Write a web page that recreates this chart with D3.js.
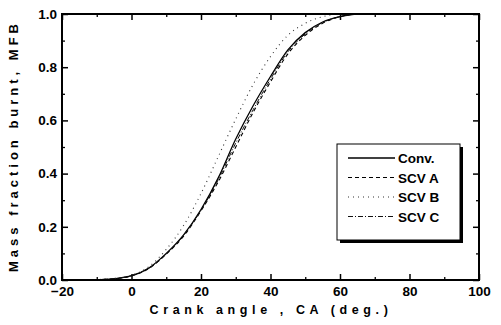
<!DOCTYPE html>
<html>
<head>
<meta charset="utf-8">
<script src="https://cdn.jsdelivr.net/npm/d3@7"></script>
<style>
  body { margin: 0; background: #fff; }
  svg text { font-family: "Liberation Sans", Arial, sans-serif; font-weight: bold; fill: #000; }
</style>
</head>
<body>
<div id="chart"></div>
<script>
// crank angle samples (deg.)
const crankAngle = [-12, -8, -4, 0, 5, 10, 15, 20, 25, 30, 35, 40, 45, 50, 55, 60, 65, 70];
const seriesNames = ["Conv.", "SCV A", "SCV B", "SCV C"];
const conv = [0, 0.002, 0.006, 0.016, 0.045, 0.10, 0.17, 0.265, 0.385, 0.53, 0.655, 0.765, 0.865, 0.93, 0.97, 0.99, 1.0, 1.0];
const scvA = [0, 0.002, 0.006, 0.015, 0.043, 0.097, 0.165, 0.26, 0.37, 0.50, 0.63, 0.745, 0.85, 0.92, 0.965, 0.99, 1.0, 1.0];
const scvB = [0, 0.003, 0.008, 0.018, 0.05, 0.115, 0.205, 0.325, 0.465, 0.605, 0.735, 0.84, 0.92, 0.965, 0.99, 1.0, 1.0, 1.0];
const scvC = [0, 0.002, 0.006, 0.016, 0.044, 0.098, 0.168, 0.262, 0.378, 0.515, 0.64, 0.755, 0.858, 0.925, 0.968, 0.99, 1.0, 1.0];
const xTicks = [-20, 0, 20, 40, 60, 80, 100];
const yTicks = [0.0, 0.2, 0.4, 0.6, 0.8, 1.0];

const width = 501, height = 325;
const margin = { top: 14, right: 22, bottom: 45, left: 62 };
const w = width - margin.left - margin.right;
const h = height - margin.top - margin.bottom;

const svg = d3.select("#chart").append("svg")
  .attr("width", width)
  .attr("height", height);

const g = svg.append("g")
  .attr("transform", "translate(" + margin.left + "," + margin.top + ")");

const x = d3.scaleLinear().domain([-20, 100]).range([0, w]);
const y = d3.scaleLinear().domain([0, 1]).range([h, 0]);

// major + minor ticks, pointing inward on all four sides
function tickAxis(axisFn, scale, major, minor, len, transform) {
  g.append("g").attr("transform", transform)
    .call(axisFn(scale).tickValues(minor).tickSize(len / 2).tickFormat(""))
    .call(a => a.select(".domain").remove())
    .selectAll("line").attr("stroke", "#000").attr("stroke-width", 1.3);
  return g.append("g").attr("transform", transform)
    .call(axisFn(scale).tickValues(major).tickSize(len))
    .call(a => a.select(".domain").remove())
    .call(a => a.selectAll("line").attr("stroke", "#000").attr("stroke-width", 1.5));
}
const xMinor = d3.range(-10, 100, 20);
const yMinor = [0.1, 0.3, 0.5, 0.7, 0.9];

// bottom: labels outward, tick lines inward
const bx = tickAxis(d3.axisTop, x, xTicks, xMinor, 6, "translate(0," + h + ")");
bx.selectAll("text").remove();
g.append("g").attr("transform", "translate(0," + h + ")")
  .call(d3.axisBottom(x).tickValues(xTicks).tickSize(0).tickPadding(6))
  .call(a => a.select(".domain").remove())
  .selectAll("text").style("font-size", "13.5px");

const ly = tickAxis(d3.axisRight, y, yTicks, yMinor, 6, "translate(0,0)");
ly.selectAll("text").remove();
g.append("g")
  .call(d3.axisLeft(y).tickValues(yTicks).tickSize(0).tickPadding(5).tickFormat(d3.format(".1f")))
  .call(a => a.select(".domain").remove())
  .selectAll("text").style("font-size", "13.5px");

tickAxis(d3.axisBottom, x, xTicks, xMinor, 6, "translate(0,0)").selectAll("text").remove();
tickAxis(d3.axisLeft, y, yTicks, yMinor, 6, "translate(" + w + ",0)").selectAll("text").remove();

// curves
const styles = [
  { data: conv, dash: null, width: 1.3, color: "#000" },
  { data: scvA, dash: "4,3", width: 1.1, color: "#000" },
  { data: scvB, dash: "1,4", width: 1.1, color: "#333" },
  { data: scvC, dash: "5,2,1,2", width: 1.0, color: "#111" }
];
const line = d3.line()
  .x((d, i) => x(crankAngle[i]))
  .y(d => y(d))
  .curve(d3.curveMonotoneX);

styles.forEach(s => {
  g.append("path")
    .datum(s.data)
    .attr("fill", "none")
    .attr("stroke", s.color)
    .attr("stroke-width", s.width)
    .attr("stroke-dasharray", s.dash)
    .attr("d", line);
});

// frame
g.append("rect")
  .attr("width", w).attr("height", h)
  .attr("fill", "none").attr("stroke", "#000").attr("stroke-width", 2);

// legend with drop shadow
const lg = svg.append("g").attr("transform", "translate(337,144)");
lg.append("rect").attr("x", 3).attr("y", 3).attr("width", 123).attr("height", 96).attr("fill", "#000");
lg.append("rect").attr("width", 123).attr("height", 96).attr("fill", "#fff")
  .attr("stroke", "#000").attr("stroke-width", 1);
seriesNames.forEach((name, i) => {
  const yy = 14 + i * 19.5;
  lg.append("line")
    .attr("x1", 11).attr("x2", 58).attr("y1", yy).attr("y2", yy)
    .attr("stroke", styles[i].color)
    .attr("stroke-width", styles[i].width)
    .attr("stroke-dasharray", styles[i].dash);
  lg.append("text")
    .attr("x", 61).attr("y", yy + 5)
    .style("font-size", "13.5px")
    .text(name);
});

// axis titles
svg.append("text")
  .attr("x", 271).attr("y", 314)
  .attr("text-anchor", "middle")
  .style("font-size", "12.5px")
  .style("letter-spacing", "4.6px")
  .text("Crank angle , CA (deg.)");

svg.append("text")
  .attr("transform", "translate(18,146) rotate(-90)")
  .attr("text-anchor", "middle")
  .style("font-size", "13px")
  .style("letter-spacing", "4px")
  .text("Mass fraction burnt, MFB");
</script>
</body>
</html>
